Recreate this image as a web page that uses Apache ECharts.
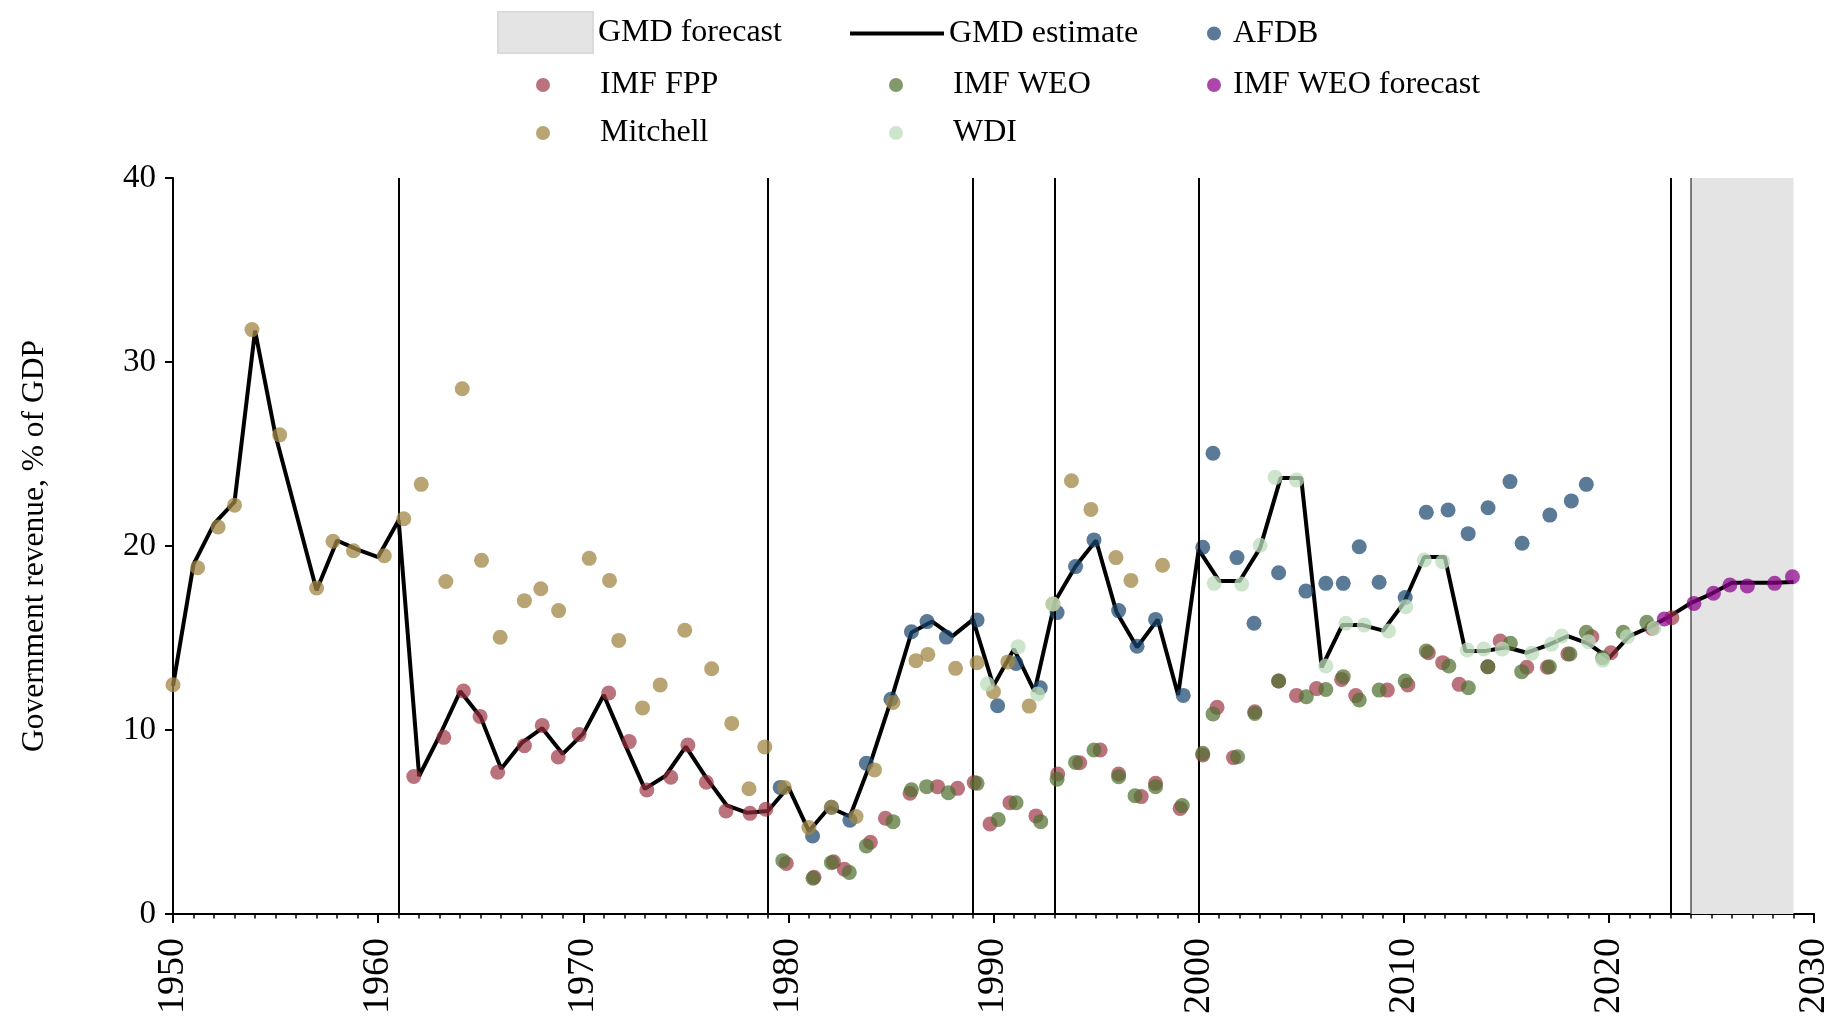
<!DOCTYPE html>
<html>
<head>
<meta charset="utf-8">
<script src="https://cdn.jsdelivr.net/npm/echarts@6/dist/echarts.min.js"></script>
<style>
  html, body { margin: 0; padding: 0; background: #ffffff; }
  #chart { width: 1837px; height: 1019px; }
</style>
</head>
<body>
<div id="chart"></div>
<script>
// ---------------- DATA ----------------
const xTickYears = [1950, 1960, 1970, 1980, 1990, 2000, 2010, 2020, 2030];
const yTicks = [0, 10, 20, 30, 40];
const breakYears = [1961, 1979, 1989, 1993, 2000, 2023];
const forecastStart = 2024;
const forecastEnd = 2029;

const gmdYears = [1950,1951,1952,1953,1954,1955,1956,1957,1958,1959,
  1960,1961,1962,1963,1964,1965,1966,1967,1968,1969,
  1970,1971,1972,1973,1974,1975,1976,1977,1978,1979,
  1980,1981,1982,1983,1984,1985,1986,1987,1988,1989,
  1990,1991,1992,1993,1994,1995,1996,1997,1998,1999,
  2000,2001,2002,2003,2004,2005,2006,2007,2008,2009,
  2010,2011,2012,2013,2014,2015,2016,2017,2018,2019,
  2020,2021,2022,2023,2024,2025,2026,2027,2028,2029];
const gmdValues = [12.4,19.0,21.2,22.4,31.7,26.0,null,17.6,20.3,19.8,
  19.4,21.4,7.5,9.7,12.1,10.7,7.9,9.3,10.1,8.7,
  9.8,11.9,9.3,6.8,7.5,9.1,7.4,5.9,5.5,5.6,
  6.9,4.5,5.8,5.3,8.2,11.6,15.3,15.9,15.1,16.0,
  12.4,14.4,12.1,17.0,18.9,20.3,16.4,14.5,16.0,11.9,
  19.8,18.1,18.1,19.9,23.7,23.7,13.4,15.7,15.7,15.4,
  16.9,19.4,19.4,14.3,14.3,14.5,14.2,14.6,15.1,14.7,
  13.9,15.1,15.6,16.2,16.9,17.4,18.0,18.0,18.0,18.05];

const afdbYears = [1979.6,1981.18,1982.1,1983.0,1983.8,1985.0,1986.0,1986.76,1987.7,1989.2,
  1990.2,1991.1,1992.28,1993.1,1994.0,1994.9,1996.1,1997.0,1997.9,1999.25,
  2000.2,2000.7,2001.87,2002.7,2003.9,2005.23,2006.2,2007.05,2007.83,2008.8,
  2010.07,2011.1,2012.16,2013.14,2014.11,2015.18,2015.77,2017.12,2018.17,2018.9];
const afdbValues = [6.88,4.24,5.8,5.1,8.19,11.67,15.34,15.89,15.05,15.98,
  11.32,13.62,12.3,16.38,18.88,20.33,16.49,14.55,16.01,11.88,
  19.93,25.04,19.37,15.8,18.55,17.55,17.97,17.97,19.96,18.03,
  17.2,21.83,21.96,20.67,22.08,23.5,20.15,21.68,22.45,23.35];

const fppYears = [1961.74,1963.2,1964.16,1964.97,1965.83,1967.13,1968.0,1968.78,1969.8,1971.24,
  1972.24,1973.1,1974.27,1975.1,1976.0,1976.96,1978.13,1978.9,1979.9,1981.25,
  1982.2,1982.73,1984.0,1984.73,1985.93,1987.27,1988.25,1989.06,1989.83,1990.8,
  1992.07,1993.13,1994.2,1995.2,1996.1,1997.2,1997.9,1999.1,2000.2,2000.9,
  2001.7,2002.74,2003.9,2004.77,2005.75,2006.97,2007.66,2009.2,2010.2,2011.2,
  2011.9,2012.7,2014.1,2014.7,2016.0,2017.0,2018.0,2019.17,2020.1,2022.1,2023.07];
const fppValues = [7.47,9.6,12.12,10.74,7.7,9.15,10.25,8.53,9.75,12.01,
  9.37,6.74,7.43,9.18,7.16,5.6,5.47,5.69,2.75,2.0,
  2.84,2.43,3.9,5.2,6.56,6.92,6.83,7.14,4.89,6.05,
  5.33,7.61,8.22,8.91,7.61,6.38,7.1,5.74,8.64,11.23,
  8.5,10.99,12.66,11.88,12.25,12.75,11.87,12.17,12.45,14.2,
  13.66,12.48,13.44,14.84,13.41,13.41,14.13,15.07,14.2,15.53,16.1];

const weoYears = [1979.73,1981.2,1982.1,1982.97,1983.8,1985.1,1986.0,1986.74,1987.8,1989.2,
  1990.23,1991.1,1992.3,1993.1,1994.0,1994.9,1996.1,1996.9,1997.9,1999.2,
  2000.2,2000.7,2001.9,2002.74,2003.9,2005.25,2006.2,2007.05,2007.83,2008.8,
  2010.07,2011.1,2012.2,2013.15,2014.1,2015.2,2015.75,2017.1,2018.1,2018.9,
  2019.7,2020.7,2021.85];
const weoValues = [2.9,1.94,2.79,2.26,3.7,5.02,6.75,6.92,6.59,7.1,
  5.14,6.05,5.02,7.32,8.24,8.91,7.46,6.43,6.92,5.89,
  8.73,10.87,8.55,10.9,12.66,11.81,12.2,12.9,11.63,12.17,
  12.66,14.29,13.48,12.3,13.44,14.71,13.17,13.44,14.13,15.31,
  13.93,15.31,15.85];

const weoForecastYears = [2022.7,2024.15,2025.1,2025.9,2026.75,2028.08,2028.95];
const weoForecastValues = [16.03,16.88,17.43,17.88,17.83,17.97,18.33];

const mitchellYears = [1950.0,1951.2,1952.2,1953.0,1953.85,1955.2,1957.0,1957.8,1958.8,1960.3,
  1961.25,1962.1,1963.3,1964.1,1965.04,1965.95,1967.13,1967.93,1968.8,1970.29,
  1971.28,1971.73,1972.89,1973.75,1974.95,1976.26,1977.24,1978.08,1978.85,1979.8,
  1981.0,1982.1,1983.3,1984.2,1985.1,1986.22,1986.8,1988.15,1989.2,1990.0,
  1990.7,1991.74,1992.9,1993.8,1994.75,1995.97,1996.7,1998.24];
const mitchellValues = [12.46,18.82,21.03,22.22,31.76,26.04,17.72,20.26,19.74,19.47,
  21.48,23.35,18.07,28.55,19.22,15.04,17.03,17.68,16.49,19.33,
  18.13,14.87,11.2,12.45,15.42,13.33,10.36,6.81,9.08,6.88,
  4.7,5.8,5.3,7.83,11.5,13.77,14.11,13.35,13.66,12.08,
  13.7,11.3,16.85,23.55,21.99,19.37,18.13,18.95];

const wdiYears = [1989.7,1991.2,1992.15,1992.9,2000.76,2002.1,2003.0,2003.73,2004.77,2006.2,
  2007.18,2008.07,2009.26,2010.1,2011.0,2011.9,2013.1,2013.9,2014.8,2016.24,
  2017.2,2017.7,2019.0,2019.7,2020.9,2022.2];
const wdiValues = [12.5,14.53,11.96,16.85,17.97,17.93,20.04,23.73,23.59,13.48,
  15.8,15.71,15.38,16.7,19.24,19.15,14.35,14.4,14.4,14.17,
  14.66,15.11,14.8,13.8,15.07,15.53];

// ---------------- CHART ----------------
const FONT = 'Liberation Serif';
const pairs = (xs, ys) => xs.map((x, i) => [x, ys[i]]);

const chart = echarts.init(document.getElementById('chart'), null, { renderer: 'canvas' });

function scatter(name, xs, ys, color, opacity, z) {
  return {
    name: name,
    type: 'scatter',
    data: pairs(xs, ys),
    symbol: 'circle',
    symbolSize: 15,
    itemStyle: { color: color, opacity: opacity },
    z: z,
    silent: true
  };
}

const legendBase = {
  orient: 'horizontal',
  padding: 0,
  itemGap: 0,
  selectedMode: false,
  textStyle: { fontFamily: FONT, fontSize: 32, color: '#000' }
};
function legendItem(item, left, top, w, h) {
  return Object.assign({}, legendBase, { data: [item], left: left, top: top, itemWidth: w, itemHeight: h });
}

const option = {
  animation: false,
  backgroundColor: '#ffffff',
  grid: { left: 173, right: 23, top: 178, bottom: 105, containLabel: false },
  legend: [
    legendItem({ name: 'GMD forecast', icon: 'rect', itemStyle: { color: '#e4e4e4', borderColor: '#dadada', borderWidth: 2 } }, 497, 11, 95, 41),
    legendItem({ name: 'GMD estimate', icon: 'rect' }, 850, 17.5, 94, 4),
    legendItem({ name: 'AFDB', icon: 'circle' }, 1207, 17.5, 28, 14),
    legendItem({ name: 'IMF FPP', icon: 'circle' }, 536, 69, 104, 14),
    legendItem({ name: 'IMF WEO', icon: 'circle' }, 889, 69, 104, 14),
    legendItem({ name: 'IMF WEO forecast', icon: 'circle' }, 1207, 69, 28, 14),
    legendItem({ name: 'Mitchell', icon: 'circle' }, 536, 117, 104, 14),
    legendItem({ name: 'WDI', icon: 'circle' }, 889, 117, 104, 14)
  ],
  xAxis: {
    type: 'value',
    min: xTickYears[0],
    max: xTickYears[xTickYears.length - 1],
    interval: 10,
    splitLine: { show: false },
    axisLine: { show: true, onZero: false, lineStyle: { color: '#000', width: 2 } },
    axisTick: { show: true, inside: false, length: 9, lineStyle: { color: '#000', width: 2 } },
    minorTick: { show: true, splitNumber: 10, length: 4.5, lineStyle: { color: '#000', width: 1.5 } },
    axisLabel: { rotate: 90, margin: 24, fontFamily: FONT, fontSize: 38, color: '#000',
      formatter: v => String(v) }
  },
  yAxis: {
    type: 'value',
    min: yTicks[0],
    max: yTicks[yTicks.length - 1],
    interval: 10,
    splitLine: { show: false },
    axisLine: { show: true, onZero: false, lineStyle: { color: '#000', width: 2 } },
    axisTick: { show: true, inside: false, length: 8, lineStyle: { color: '#000', width: 2 } },
    axisLabel: { margin: 17, fontFamily: FONT, fontSize: 33, color: '#000' },
    name: 'Government revenue, % of GDP',
    nameLocation: 'middle',
    nameGap: 122,
    nameTextStyle: { fontFamily: FONT, fontSize: 31.5, color: '#000' }
  },
  series: [
    {
      name: 'GMD forecast',
      type: 'line',
      data: [],
      itemStyle: { color: '#e4e4e4' },
      lineStyle: { color: '#e4e4e4' },
      z: 1,
      silent: true,
      markArea: {
        silent: true,
        itemStyle: { color: '#e4e4e4' },
        data: [[{ xAxis: forecastStart }, { xAxis: forecastEnd }]]
      },
      markLine: {
        silent: true,
        symbol: ['none', 'none'],
        label: { show: false },
        lineStyle: { color: '#555', width: 1.5, type: 'solid' },
        data: [{ xAxis: forecastStart }]
      }
    },
    {
      name: 'breaks',
      type: 'line',
      data: [],
      z: 2,
      silent: true,
      markLine: {
        silent: true,
        symbol: ['none', 'none'],
        label: { show: false },
        lineStyle: { color: '#000', width: 2, type: 'solid' },
        data: breakYears.map(y => ({ xAxis: y }))
      }
    },
    {
      name: 'GMD estimate',
      type: 'line',
      data: pairs(gmdYears, gmdValues),
      connectNulls: true,
      symbol: 'none',
      showSymbol: false,
      itemStyle: { color: '#000' },
      lineStyle: { color: '#000', width: 4 },
      z: 3,
      silent: true
    },
    scatter('AFDB', afdbYears, afdbValues, '#1a476f', 0.72, 4),
    scatter('IMF FPP', fppYears, fppValues, '#9a2f3e', 0.68, 5),
    scatter('IMF WEO', weoYears, weoValues, '#4f7030', 0.72, 6),
    scatter('IMF WEO forecast', weoForecastYears, weoForecastValues, '#8a008a', 0.72, 7),
    scatter('Mitchell', mitchellYears, mitchellValues, '#a08744', 0.75, 8),
    scatter('WDI', wdiYears, wdiValues, '#bcdcbc', 0.75, 9)
  ]
};

chart.setOption(option);
</script>
</body>
</html>
